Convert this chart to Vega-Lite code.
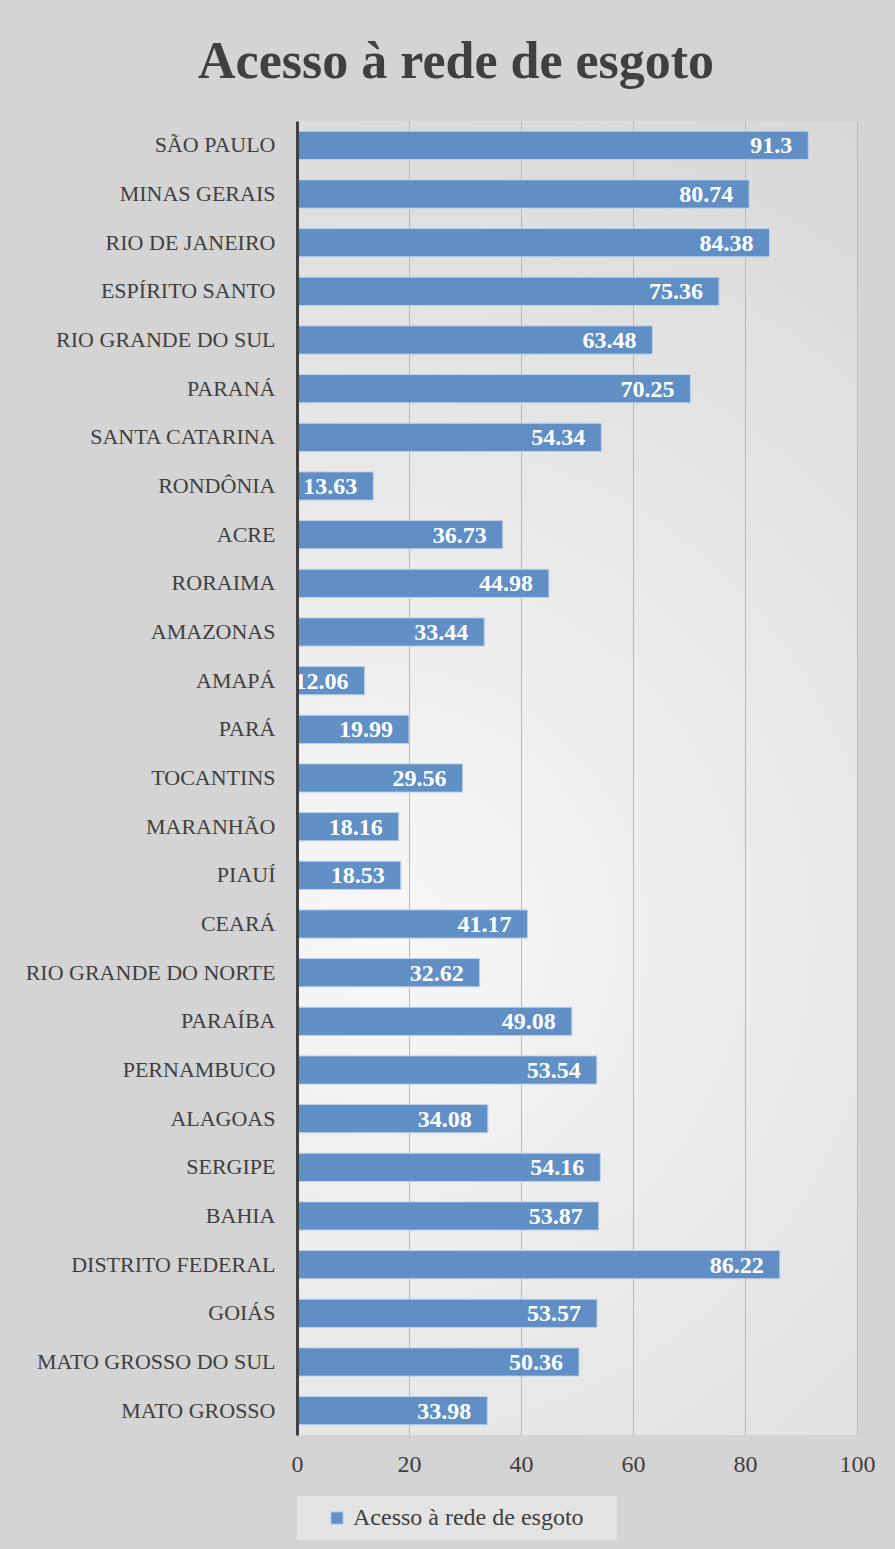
{
  "$schema": "https://vega.github.io/schema/vega-lite/v6.json",
  "width": 560,
  "height": 1314,
  "autosize": {"type": "none"},
  "padding": {"left": 297, "top": 121, "right": 38, "bottom": 114},
  "background": "#d4d4d4",
  "title": {
    "text": "Acesso à rede de esgoto",
    "font": "Liberation Serif",
    "fontSize": 52,
    "fontWeight": "bold",
    "color": "#404040",
    "anchor": "middle",
    "frame": "bounds",
    "offset": 32,
    "dx": 6
  },
  "config": {
    "view": {
      "stroke": null,
      "fill": {
        "gradient": "radial",
        "x1": 0.35, "y1": 0.62, "r1": 0,
        "x2": 0.35, "y2": 0.62, "r2": 0.8,
        "stops": [
          {"offset": 0, "color": "#f8f8f8"},
          {"offset": 1, "color": "#d4d4d4"}
        ]
      }
    },
    "font": "Liberation Serif"
  },
  "data": {
    "values": [
      {"estado": "SÃO PAULO", "valor": 91.3},
      {"estado": "MINAS GERAIS", "valor": 80.74},
      {"estado": "RIO DE JANEIRO", "valor": 84.38},
      {"estado": "ESPÍRITO SANTO", "valor": 75.36},
      {"estado": "RIO GRANDE DO SUL", "valor": 63.48},
      {"estado": "PARANÁ", "valor": 70.25},
      {"estado": "SANTA CATARINA", "valor": 54.34},
      {"estado": "RONDÔNIA", "valor": 13.63},
      {"estado": "ACRE", "valor": 36.73},
      {"estado": "RORAIMA", "valor": 44.98},
      {"estado": "AMAZONAS", "valor": 33.44},
      {"estado": "AMAPÁ", "valor": 12.06},
      {"estado": "PARÁ", "valor": 19.99},
      {"estado": "TOCANTINS", "valor": 29.56},
      {"estado": "MARANHÃO", "valor": 18.16},
      {"estado": "PIAUÍ", "valor": 18.53},
      {"estado": "CEARÁ", "valor": 41.17},
      {"estado": "RIO GRANDE DO NORTE", "valor": 32.62},
      {"estado": "PARAÍBA", "valor": 49.08},
      {"estado": "PERNAMBUCO", "valor": 53.54},
      {"estado": "ALAGOAS", "valor": 34.08},
      {"estado": "SERGIPE", "valor": 54.16},
      {"estado": "BAHIA", "valor": 53.87},
      {"estado": "DISTRITO FEDERAL", "valor": 86.22},
      {"estado": "GOIÁS", "valor": 53.57},
      {"estado": "MATO GROSSO DO SUL", "valor": 50.36},
      {"estado": "MATO GROSSO", "valor": 33.98}
    ]
  },
  "encoding": {
    "y": {
      "field": "estado",
      "type": "nominal",
      "sort": null,
      "scale": {"paddingInner": 0.42, "paddingOuter": 0.21},
      "axis": {
        "title": null,
        "ticks": false,
        "domainColor": "#404040",
        "domainWidth": 3,
        "labelColor": "#404040",
        "labelFontSize": 22,
        "labelPadding": 22,
        "labelLimit": 400,
        "zindex": 1
      }
    },
    "x": {
      "field": "valor",
      "type": "quantitative",
      "scale": {"domain": [0, 100], "nice": false},
      "axis": {
        "title": null,
        "values": [0, 20, 40, 60, 80, 100],
        "domain": false,
        "ticks": false,
        "gridColor": "#b8b8b8",
        "gridWidth": 1,
        "labelColor": "#404040",
        "labelFontSize": 24,
        "labelPadding": 17,
        "labelFlush": false
      }
    }
  },
  "layer": [
    {
      "mark": {"type": "bar", "stroke": "#bcd0ea", "strokeWidth": 1, "opacity": 0.95},
      "encoding": {
        "color": {
          "datum": "Acesso à rede de esgoto",
          "type": "nominal",
          "scale": {"range": ["#5a8bc4"]},
          "legend": {
            "title": "\u00a0",
            "titleOrient": "right",
            "titlePadding": 23,
            "titleFontSize": 10,
            "orient": "none",
            "legendX": 0,
            "legendY": 1375,
            "fillColor": "#e3e3e3",
            "padding": 10,
            "symbolType": "square",
            "symbolSize": 150,
            "symbolOffset": 18,
            "symbolStrokeColor": "#bcd0ea",
            "symbolStrokeWidth": 1,
            "labelFontSize": 24,
            "labelColor": "#404040",
            "labelOffset": 4,
            "labelLimit": 400
          }
        }
      }
    },
    {
      "mark": {
        "type": "text",
        "align": "right",
        "baseline": "middle",
        "dx": -16,
        "dy": 1,
        "fontSize": 24,
        "fontWeight": "bold",
        "color": "white"
      },
      "encoding": {
        "text": {"field": "valor", "type": "quantitative"}
      }
    }
  ]
}
